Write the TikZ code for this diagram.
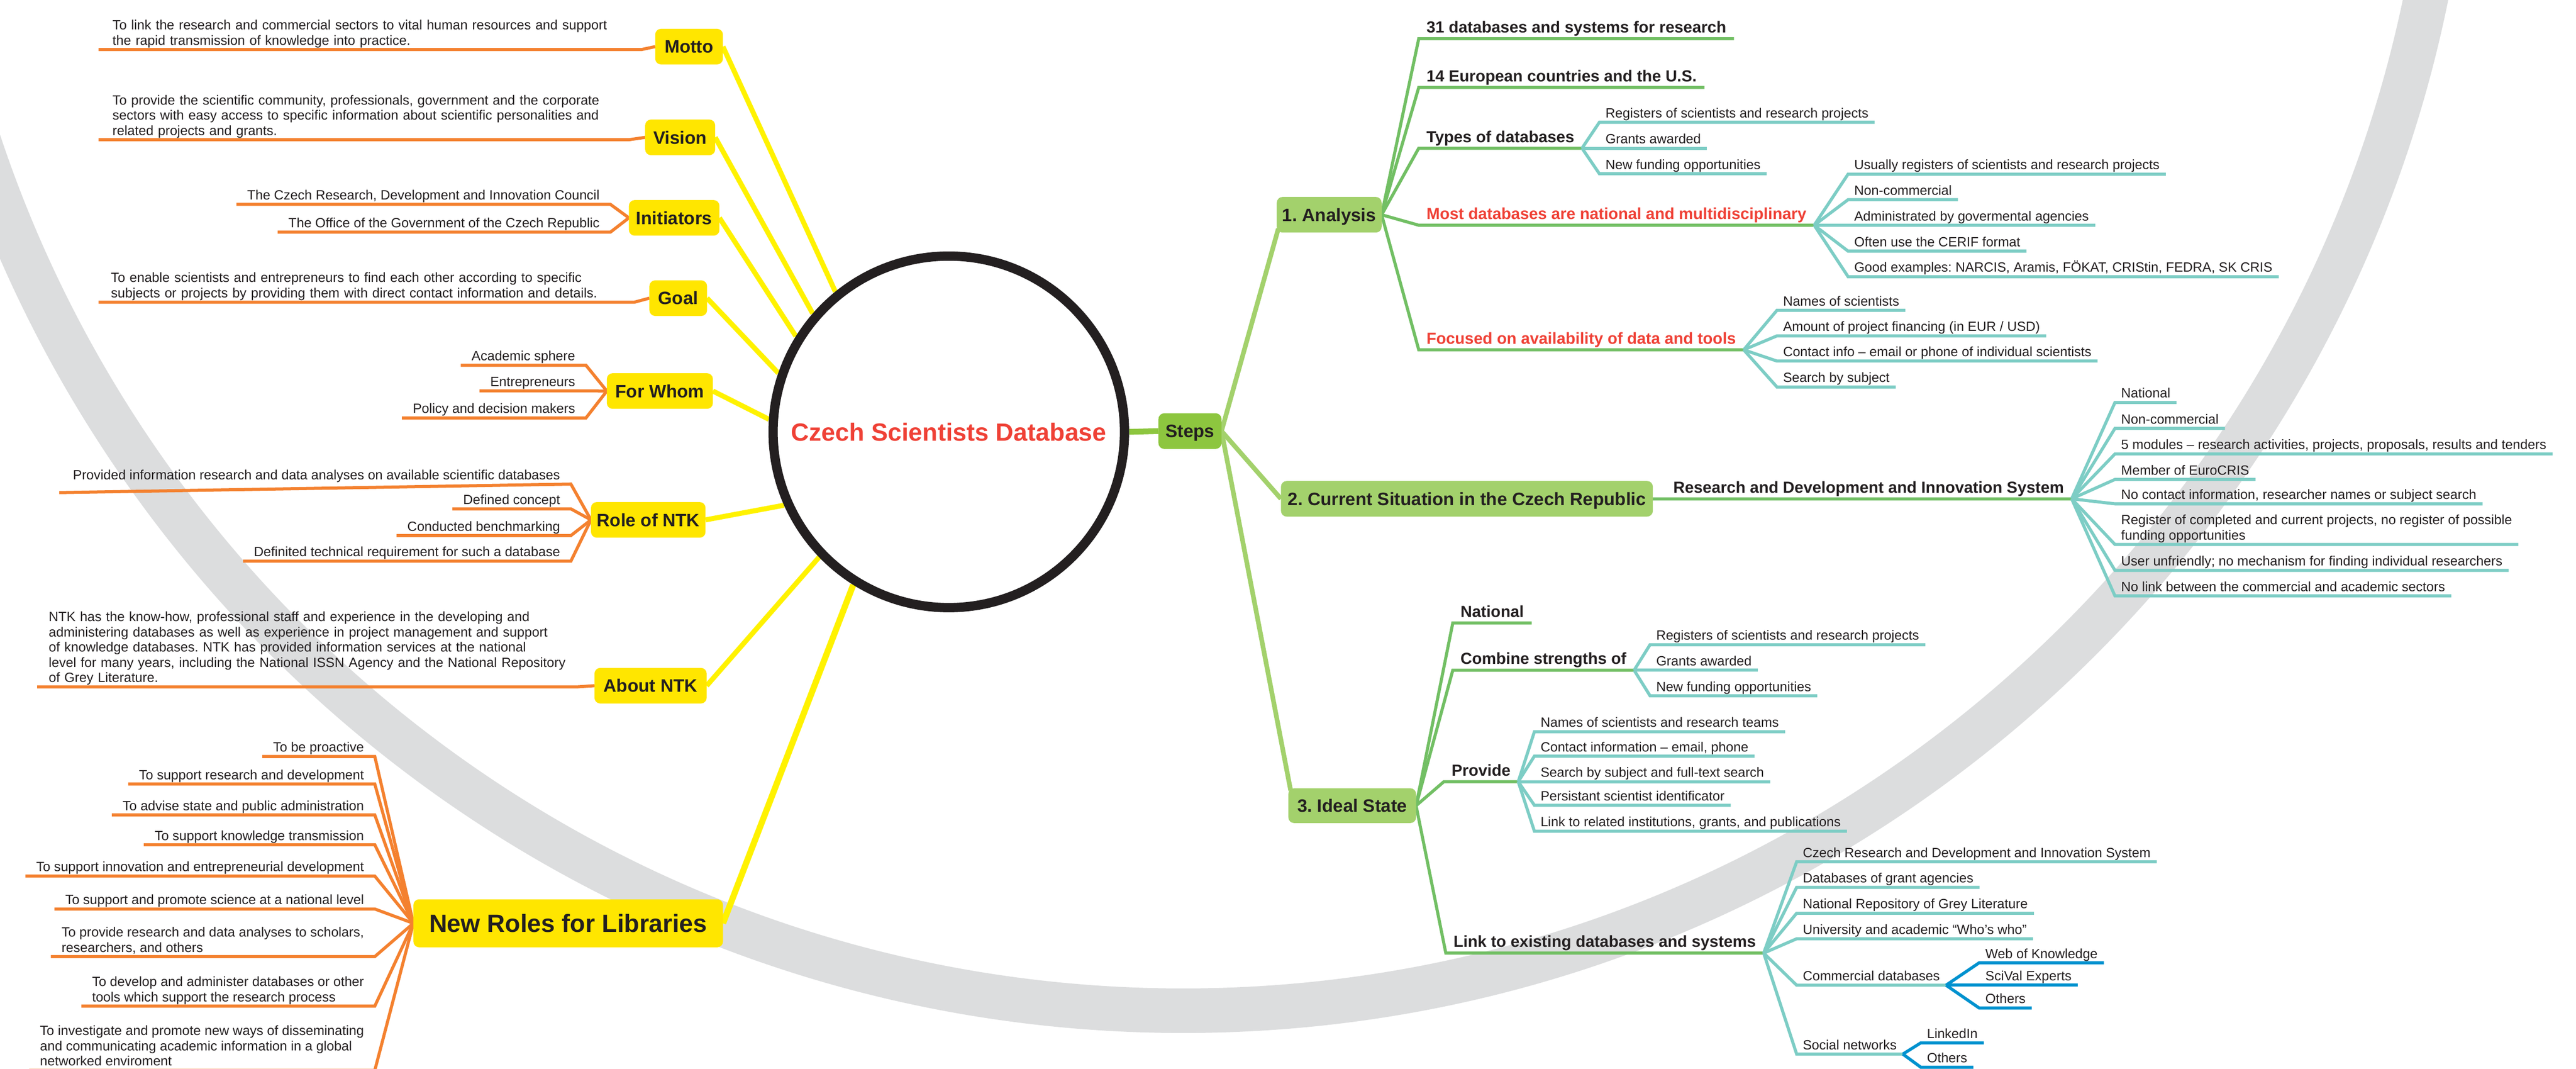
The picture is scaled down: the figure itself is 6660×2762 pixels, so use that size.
\documentclass[tikz,border=0pt]{standalone}
\usepackage{fontspec}
\setmainfont{Liberation Sans}
\frenchspacing
\usetikzlibrary{calc}
\pgfdeclarelayer{arc}
\pgfdeclarelayer{links}
\pgfsetlayers{arc,links,main}
\definecolor{yelbox}{HTML}{FFE600}
\definecolor{yelline}{HTML}{FFF200}
\definecolor{orng}{HTML}{F4812F}
\definecolor{gbox}{HTML}{A3D16C}
\definecolor{gstep}{HTML}{8DC63F}
\definecolor{gline}{HTML}{72BF64}
\definecolor{tealc}{HTML}{7DCDC5}
\definecolor{bluec}{HTML}{0092CF}
\definecolor{redc}{HTML}{EF4136}
\definecolor{arcg}{HTML}{DCDDDE}
\definecolor{ink}{HTML}{231F20}
\tikzset{
  lfont/.style={font=\fontsize{9.85}{11.2}\selectfont},
  leafR/.style={lfont, text=ink, anchor=south west, inner xsep=0.16cm, inner ysep=0pt, outer sep=0pt, align=left, execute at end node=\strut},
  leafL/.style={lfont, text=ink, anchor=south east, inner xsep=0.28cm, inner ysep=0pt, outer sep=0pt, align=left, execute at end node=\strut},
  leafW/.style={lfont, text=ink, anchor=south west, inner ysep=0pt, outer sep=0pt, align=left, execute at end node=\strut},
  lvtwo/.style={font=\fontsize{11.8}{14.5}\selectfont\bfseries, text=ink, anchor=south west, inner xsep=0.2cm, inner ysep=0pt, outer sep=0pt, execute at end node=\strut},
  lvred/.style={lvtwo, text=redc},
  topic/.style={rounded corners=0.15cm, font=\fontsize{13.2}{15}\selectfont\bfseries, text=ink, inner sep=0pt, outer sep=0pt, text height=9.45pt, text depth=0pt, minimum height=0.92cm},
  ybox/.style={topic, fill=yelbox},
  gbx/.style={topic, fill=gbox},
  ycon/.style={draw=yelline, line width=0.13cm},
  ocon/.style={draw=orng, line width=0.08cm},
  tcon/.style={draw=tealc, line width=0.08cm},
  gcon/.style={draw=gline, line width=0.08cm},
  bcon/.style={draw=bluec, line width=0.08cm},
  scon/.style={draw=gbox, line width=0.12cm},
}
\begin{document}
\begin{tikzpicture}[x=0.01cm, y=-0.01cm]
\useasboundingbox (0,0) rectangle (6660,2762);
\begin{pgfonlayer}{arc}
\begin{scope}
\clip (0,0) rectangle (6660,2762);
\fill[white] (0,0) rectangle (6660,2762);
\draw[arcg, line width=1.15cm] (3059,-668) circle [radius=32.78cm];
\end{scope}
\end{pgfonlayer}

% ---------- centre ----------
\node[circle, draw=ink, line width=0.24cm, fill=white, minimum size=9.08cm, inner sep=0pt,
      font=\fontsize{18.3}{20}\selectfont\bfseries, text=redc] (cdb) at (2453,1116) {Czech Scientists Database};

% ---------- left topics ----------
\node[ybox, minimum width=1.75cm] (mot) at (1781.5,120.5) {Motto};
\node[ybox, minimum width=1.81cm] (vis) at (1758.5,355) {Vision};
\node[ybox, minimum width=2.34cm] (ini) at (1743,563) {Initiators};
\node[ybox, minimum width=1.49cm] (goal) at (1753.5,770.5) {Goal};
\node[ybox, minimum width=2.74cm] (fw) at (1706,1010.5) {For Whom};
\node[ybox, minimum width=2.96cm] (rn) at (1676,1343.5) {Role of NTK};
\node[ybox, minimum width=2.90cm] (ab) at (1682,1772) {About NTK};
\node[ybox, minimum width=8.00cm, minimum height=1.24cm, font=\fontsize{18.3}{20}\selectfont\bfseries, text height=13.1pt] (nr) at (1469,2386) {New Roles for Libraries};

\node[leafW, inner xsep=0.36cm, text width=13.31cm] (mt1) at (255,128) {To link the research and commercial sectors to vital human resources and support\\the rapid transmission of knowledge into practice.};
\node[leafW, inner xsep=0.36cm, text width=12.99cm] (vs1) at (255,361) {To provide the scientific community, professionals, government and the corporate\\sectors with easy access to specific information about scientific personalities and\\related projects and grants.};
\node[leafL] (i1) at (1578,528) {The Czech Research, Development and Innovation Council};
\node[leafL] (i2) at (1578,600) {The Office of the Government of the Czech Republic};
\node[leafW, inner xsep=0.32cm, text width=13.2cm] (gl1) at (255,781) {To enable scientists and entrepreneurs to find each other according to specific\\subjects or projects by providing them with direct contact information and details.};
\node[leafL] (w1) at (1515,944) {Academic sphere};
\node[leafL] (w2) at (1515,1010) {Entrepreneurs};
\node[leafL] (w3) at (1515,1080) {Policy and decision makers};
\node[leafL] (r1) at (1476,1251) {Provided information research and data analyses on available scientific databases};
\coordinate (r1end) at (153,1273);
\node[leafL] (r2) at (1476,1315) {Defined concept};
\node[leafL] (r3) at (1476,1384) {Conducted benchmarking};
\node[leafL] (r4) at (1476,1450) {Definited technical requirement for such a database};
\node[leafW, inner xsep=0.3cm, text width=13.36cm] (ab1) at (96,1775) {NTK has the know-how, professional staff and experience in the developing and\\administering databases as well as experience in project management and support\\of knowledge databases. NTK has provided information services at the national\\level for many years, including the National ISSN Agency and the National Repository\\of Grey Literature.};
\node[leafL] (n1) at (969,1955) {To be proactive};
\node[leafL] (n2) at (969,2026) {To support research and development};
\node[leafL] (n3) at (969,2106) {To advise state and public administration};
\node[leafL] (n4) at (969,2183) {To support knowledge transmission};
\node[leafL] (n5) at (969,2264) {To support innovation and entrepreneurial development};
\node[leafL] (n6) at (969,2349) {To support and promote science at a national level};
\node[leafL] (n7) at (969,2472) {To provide research and data analyses to scholars,\\researchers, and others};
\node[leafL] (n8) at (969,2600) {To develop and administer databases or other\\tools which support the research process};
\node[leafL] (n9) at (969,2766) {To investigate and promote new ways of disseminating\\and communicating academic information in a global\\networked enviroment};

% ---------- right topics ----------
\node[gbx, fill=gstep, minimum width=1.63cm] (st) at (3076.5,1114) {Steps};
\node[gbx, minimum width=2.71cm] (an) at (3436.5,555) {1. Analysis};
\node[gbx, minimum width=9.61cm] (cur) at (3792.5,1289) {2. Current Situation in the Czech Republic};
\node[gbx, minimum width=3.30cm, minimum height=0.90cm] (idl) at (3496,2082) {3. Ideal State};

\node[lvtwo] (a1) at (3668,100) {31 databases and systems for research};
\node[lvtwo] (a2) at (3668,226) {14 European countries and the U.S.};
\node[lvtwo] (a3) at (3668,383) {Types of databases};
\node[lvred] (a4) at (3668,582) {Most databases are national and multidisciplinary};
\node[lvred] (a5) at (3668,904) {Focused on availability of data and tools};

\node[leafR] (t1) at (4135,316) {Registers of scientists and research projects};
\node[leafR] (t2) at (4135,383) {Grants awarded};
\node[leafR] (t3) at (4135,449) {New funding opportunities};

\node[leafR] (m1) at (4778,450) {Usually registers of scientists and research projects};
\node[leafR] (m2) at (4778,516) {Non-commercial};
\node[leafR] (m3) at (4778,582) {Administrated by govermental agencies};
\node[leafR] (m4) at (4778,649) {Often use the CERIF format};
\node[leafR] (m5) at (4778,715) {Good examples: NARCIS, Aramis, FÖKAT, CRIStin, FEDRA, SK CRIS};

\node[leafR] (f1) at (4594,802) {Names of scientists};
\node[leafR] (f2) at (4594,868) {Amount of project financing (in EUR / USD)};
\node[leafR] (f3) at (4594,933) {Contact info – email or phone of individual scientists};
\node[leafR] (f4) at (4594,1000) {Search by subject};

\node[lvtwo] (rdi) at (4306,1289) {Research and Development and Innovation System};
\node[leafR] (c1) at (5468,1040) {National};
\node[leafR] (c2) at (5468,1107) {Non-commercial};
\node[leafR] (c3) at (5468,1173) {5 modules – research activities, projects, proposals, results and tenders};
\node[leafR] (c4) at (5468,1239) {Member of EuroCRIS};
\node[leafR] (c5) at (5468,1302) {No contact information, researcher names or subject search};
\node[leafR] (c6) at (5468,1407) {Register of completed and current projects, no register of possible\\funding opportunities};
\node[leafR] (c7) at (5468,1474) {User unfriendly; no mechanism for finding individual researchers};
\node[leafR] (c8) at (5468,1540) {No link between the commercial and academic sectors};

\node[lvtwo] (e1) at (3756,1610) {National};
\node[lvtwo] (e2) at (3756,1732) {Combine strengths of};
\node[lvtwo] (e3) at (3733,2020) {Provide};
\node[lvtwo] (e4) at (3738,2463) {Link to existing databases and systems};

\node[leafR] (k1) at (4266,1666) {Registers of scientists and research projects};
\node[leafR] (k2) at (4266,1732) {Grants awarded};
\node[leafR] (k3) at (4266,1798) {New funding opportunities};

\node[leafR] (p1) at (3967,1891) {Names of scientists and research teams};
\node[leafR] (p2) at (3967,1954) {Contact information – email, phone};
\node[leafR] (p3) at (3967,2020) {Search by subject and full-text search};
\node[leafR] (p4) at (3967,2081) {Persistant scientist identificator};
\node[leafR] (p5) at (3967,2148) {Link to related institutions, grants, and publications};

\node[leafR] (q1) at (4645,2227) {Czech Research and Development and Innovation System};
\node[leafR] (q2) at (4645,2293) {Databases of grant agencies};
\node[leafR] (q3) at (4645,2360) {National Repository of Grey Literature};
\node[leafR] (q4) at (4645,2426) {University and academic “Who’s who”};
\node[leafR] (q5) at (4645,2546) {Commercial databases};
\node[leafR] (q6) at (4645,2724) {Social networks};

\node[leafR] (u1) at (5117,2488) {Web of Knowledge};
\node[leafR] (u2) at (5117,2546) {SciVal Experts};
\node[leafR] (u3) at (5117,2605) {Others};
\node[leafR] (s1) at (4966,2695) {LinkedIn};
\node[leafR] (s2) at (4966,2758) {Others};

% ---------- connectors ----------
\begin{pgfonlayer}{links}
\draw[ycon] (mot.east) -- (cdb.129.5);
\draw[ycon] (vis.east) -- (cdb.139.7);
\draw[ycon] (ini.east) -- (cdb.148.5);
\draw[ycon] (goal.east) -- (cdb.161.7);
\draw[ycon] (fw.east) -- (cdb.176.8);
\draw[ycon] (rn.east) -- (cdb.204.3);
\draw[ycon] (ab.east) -- (cdb.224.1);
\draw[ycon, line width=0.16cm] (nr.east) -- (cdb.238.8);

\draw[ocon] (mot.west) -- (mt1.south east) -- (mt1.south west);
\draw[ocon] (vis.west) -- (vs1.south east) -- (vs1.south west);
\draw[ocon] (goal.west) -- (gl1.south east) -- (gl1.south west);
\draw[ocon] (ab.west) -- (ab1.south east) -- (ab1.south west);
\foreach \n in {i1,i2} \draw[ocon] (ini.west) -- (\n.south east) -- (\n.south west);
\foreach \n in {w1,w2,w3} \draw[ocon] (fw.west) -- (\n.south east) -- (\n.south west);
\draw[ocon] (rn.west) -- (r1.south east) -- (r1end);
\foreach \n in {r2,r3,r4} \draw[ocon] (rn.west) -- (\n.south east) -- (\n.south west);
\foreach \n in {n1,n2,n3,n4,n5,n6,n7,n8,n9} \draw[ocon] (nr.west) -- (\n.south east) -- (\n.south west);

\draw[draw=gstep, line width=0.15cm] (cdb.east) -- (st.west);
\draw[scon] (st.east) -- ([xshift=0.04cm,yshift=0.1cm]an.south west);
\draw[scon] (st.east) -- (cur.west);
\draw[scon] (st.east) -- ([xshift=0.06cm,yshift=-0.06cm]idl.north west);

\foreach \n in {a1,a2,a3,a4,a5} \draw[gcon] (an.east) -- (\n.south west) -- (\n.south east);
\draw[gcon] (cur.east) -- (rdi.south west) -- (rdi.south east);
\foreach \n in {e1,e2,e3,e4} \draw[gcon] (idl.east) -- (\n.south west) -- (\n.south east);

\foreach \n in {t1,t2,t3} \draw[tcon] (a3.south east) -- (\n.south west) -- (\n.south east);
\foreach \n in {m1,m2,m3,m4,m5} \draw[tcon] (a4.south east) -- (\n.south west) -- (\n.south east);
\foreach \n in {f1,f2,f3,f4} \draw[tcon] (a5.south east) -- (\n.south west) -- (\n.south east);
\foreach \n in {c1,c2,c3,c4,c5,c6,c7,c8} \draw[tcon] (rdi.south east) -- (\n.south west) -- (\n.south east);
\foreach \n in {k1,k2,k3} \draw[tcon] (e2.south east) -- (\n.south west) -- (\n.south east);
\foreach \n in {p1,p2,p3,p4,p5} \draw[tcon] (e3.south east) -- (\n.south west) -- (\n.south east);
\foreach \n in {q1,q2,q3,q4,q5,q6} \draw[tcon] (e4.south east) -- (\n.south west) -- (\n.south east);
\foreach \n in {u1,u2,u3} \draw[bcon] (q5.south east) -- (\n.south west) -- (\n.south east);
\foreach \n in {s1,s2} \draw[bcon] (q6.south east) -- (\n.south west) -- (\n.south east);
\end{pgfonlayer}
\end{tikzpicture}
\end{document}
